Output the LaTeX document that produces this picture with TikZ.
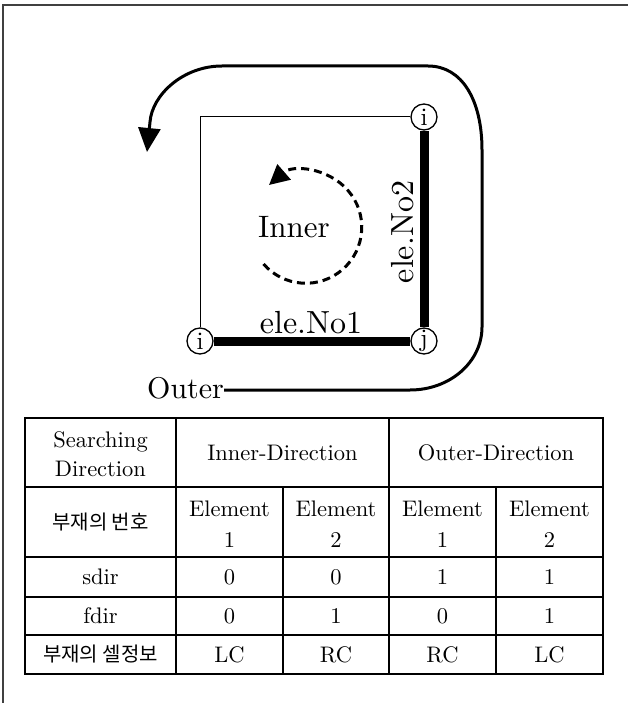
\documentclass[tikz,border=0pt]{standalone}
\usepackage{fontspec}
\setmainfont{lmroman10-regular.otf}
\newfontfamily\kr{Noto Sans CJK KR}
\usetikzlibrary{arrows.meta}
\begin{document}
\begin{tikzpicture}[x=1pt,y=-1pt,
  thinline/.style={line width=1pt},
  elem/.style={line width=9pt},
  endnode/.style={circle,draw,line width=1.3pt,fill=white,minimum size=26pt,inner sep=0pt,font=\fontsize{25}{25}\selectfont},
  lbl/.style={inner sep=0pt,font=\fontsize{32}{32}\selectfont},
  outerarrow/.style={line width=3pt,-{Triangle[length=24pt,width=22pt]}},
  innerarrow/.style={line width=3pt,dash pattern=on 8pt off 5pt,-{Triangle[length=20pt,width=20pt]}},
  gridline/.style={line width=1.2pt},
  cell/.style={inner sep=0pt,font=\fontsize{22.5}{29}\selectfont,align=center},
  cellb/.style={inner sep=0pt,font=\fontsize{22.5}{31}\selectfont,align=center},
  krcell/.style={inner sep=0pt,font=\kr\fontsize{20}{24}\selectfont},
  frameline/.style={line width=2pt,black!75}
]
\useasboundingbox (0,0) rectangle (628,703);
\fill[white] (0,0) rectangle (628,703);
\draw[frameline] (628,5) -- (3,5) -- (3,703);

% frame of the member
\coordinate (tl) at (200,117);
\node[endnode] (ibl) at (200,341) {i};
\node[endnode] (jbr) at (424,341) {j};
\node[endnode] (itr) at (424,117) {i};
\draw[thinline] (itr) -- (tl) -- (ibl);
\draw[elem] (ibl) -- (jbr);
\draw[elem] (jbr) -- (itr);

\node[lbl,anchor=base] (no1) at (311,333) {ele.No1};
\node[lbl,rotate=90] (no2) at (403,232) {ele.No2};
\node[lbl,anchor=base,font=\fontsize{31}{31}\selectfont] (inner) at (294,237) {Inner};
\node[lbl,anchor=base west,font=\fontsize{30}{30}\selectfont] (outer) at (147,398) {Outer};

% inner dashed arrow
\coordinate (istart) at (263.5,264);
\draw[innerarrow] (istart) arc[start angle=139,end angle=-131,radius=56];

% outer arrow
\coordinate (otip) at (147,152);
\draw[outerarrow] ([yshift=8pt]outer.base east) -- (410,390)
  .. controls (450,390) and (482,362) .. (482,327) -- (482,150)
  .. controls (482,100) and (462,66) .. (428,66) -- (222,66)
  .. controls (183,66) and (152,95) .. (150,122) -- (otip);

% table
\draw[gridline] (25,418) rectangle (603,674);
\foreach \yy in {487,557,597,635} \draw[gridline] (25,\yy) -- (603,\yy);
\foreach \xx in {176,389} \draw[gridline] (\xx,418) -- (\xx,674);
\foreach \xx in {283,496} \draw[gridline] (\xx,487) -- (\xx,674);

\node[cell] (h1) at (100.5,454) {Searching\\Direction};
\node[cell] (h2) at (282.5,453) {Inner-Direction};
\node[cell] (h3) at (496,453) {Outer-Direction};

\node[krcell] (r2a) at (100.5,522) {부재의 번호};
\node[cellb] (r2b) at (229.5,524) {Element\\1};
\node[cellb] (r2c) at (336,524) {Element\\2};
\node[cellb] (r2d) at (442.5,524) {Element\\1};
\node[cellb] (r2e) at (549.5,524) {Element\\2};

\node[cell] (r3a) at (100.5,577) {sdir};
\node[cell] (r3b) at (229.5,577) {0};
\node[cell] (r3c) at (336,577) {0};
\node[cell] (r3d) at (442.5,577) {1};
\node[cell] (r3e) at (549.5,577) {1};

\node[cell] (r4a) at (100.5,616) {fdir};
\node[cell] (r4b) at (229.5,616) {0};
\node[cell] (r4c) at (336,616) {1};
\node[cell] (r4d) at (442.5,616) {0};
\node[cell] (r4e) at (549.5,616) {1};

\node[krcell] (r5a) at (100.5,654.5) {부재의 셀정보};
\node[cell] (r5b) at (229.5,654.5) {LC};
\node[cell] (r5c) at (336,654.5) {RC};
\node[cell] (r5d) at (442.5,654.5) {RC};
\node[cell] (r5e) at (549.5,654.5) {LC};
\end{tikzpicture}
\end{document}
